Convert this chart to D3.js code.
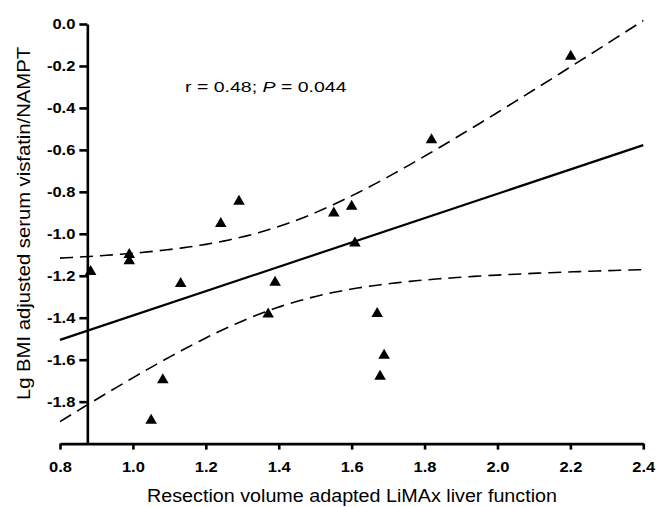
<!DOCTYPE html>
<html><head><meta charset="utf-8">
<script src="https://cdn.jsdelivr.net/npm/d3@7"></script>
<style>body{margin:0;background:#fff}</style>
</head><body>
<svg id="c" width="656" height="507"></svg>
<script>
// ---- data ----
const xValues = [0.884, 0.99, 0.99, 1.131, 1.082, 1.050, 1.291, 1.241, 1.390, 1.371, 1.551, 1.600, 1.609, 1.670, 1.689, 1.678, 1.819, 2.201];
const yValues = [-1.180, -1.100, -1.129, -1.238, -1.696, -1.890, -0.846, -0.952, -1.232, -1.383, -0.902, -0.870, -1.045, -1.381, -1.580, -1.680, -0.552, -0.155];
const xTickValues = [0.8, 1.0, 1.2, 1.4, 1.6, 1.8, 2.0, 2.2, 2.4];
const xTickLabels = ["0.8", "1.0", "1.2", "1.4", "1.6", "1.8", "2.0", "2.2", "2.4"];
const yTickValues = [0, -0.2, -0.4, -0.6, -0.8, -1.0, -1.2, -1.4, -1.6, -1.8];
const yTickLabels = ["0.0", "-0.2", "-0.4", "-0.6", "-0.8", "-1.0", "-1.2", "-1.4", "-1.6", "-1.8"];
const xDomain = [0.8, 2.4];
const yDomain = [-2.0, 0.0];
const yAxisAtX = 0.875;
const xTitle = "Resection volume adapted LiMAx liver function";
const yTitle = "Lg BMI adjusted serum visfatin/NAMPT";
const statR = "0.48";
const statP = "0.044";
const tCrit = 2.120; // t(0.975, df = 16) for the 95% confidence band

// ---- scales ----
const svg = d3.select("#c");
const x = d3.scaleLinear().domain(xDomain).range([60, 643.3]);
const y = d3.scaleLinear().domain(yDomain).range([443.6, 24]);

// ---- regression + 95% CI computed from the data ----
const pts = xValues.map((v, i) => ({x: v, y: yValues[i]}));
const n = pts.length;
const mx = d3.mean(xValues), my = d3.mean(yValues);
const sxx = d3.sum(xValues, v => (v - mx) ** 2);
const sxy = d3.sum(pts, p => (p.x - mx) * (p.y - my));
const slope = sxy / sxx, intercept = my - slope * mx;
const sse = d3.sum(pts, p => (p.y - (intercept + slope * p.x)) ** 2);
const s = Math.sqrt(sse / (n - 2));
const xs = d3.range(0, 101).map(i => xDomain[0] + (xDomain[1] - xDomain[0]) * i / 100);
const fit = v => intercept + slope * v;
const half = v => tCrit * s * Math.sqrt(1 / n + (v - mx) ** 2 / sxx);

const line = d3.line().x(d => x(d[0])).y(d => y(d[1]));
svg.append("path").attr("d", line(xs.map(v => [v, fit(v) + half(v)])))
  .attr("fill", "none").attr("stroke", "#000").attr("stroke-width", 1.6).attr("stroke-dasharray", "13,7");
svg.append("path").attr("d", line(xs.map(v => [v, fit(v) - half(v)])))
  .attr("fill", "none").attr("stroke", "#000").attr("stroke-width", 1.6).attr("stroke-dasharray", "13,7");
svg.append("path").attr("d", line([[xDomain[0], fit(xDomain[0])], [xDomain[1], fit(xDomain[1])]]))
  .attr("fill", "none").attr("stroke", "#000").attr("stroke-width", 2.2);

// ---- axes ----
const fmtX = d => xTickLabels[xTickValues.indexOf(d)];
const fmtY = d => yTickLabels[yTickValues.indexOf(d)];
const gx = svg.append("g").attr("transform", `translate(0,${y(yDomain[0])})`)
  .call(d3.axisBottom(x).tickValues(xTickValues).tickFormat(fmtX).tickSize(6).tickSizeOuter(0).tickPadding(15));
const gy = svg.append("g").attr("transform", `translate(${x(yAxisAtX)},0)`)
  .call(d3.axisLeft(y).tickValues(yTickValues).tickFormat(fmtY).tickSize(8).tickSizeOuter(0).tickPadding(4));
[gx, gy].forEach(g => {
  g.select(".domain").attr("stroke", "#000").attr("stroke-width", 2.6);
  g.selectAll(".tick line").attr("stroke", "#000").attr("stroke-width", 2.6);
  g.selectAll(".tick text").attr("fill", "#000")
    .style("font-family", "Arial, 'Liberation Sans', sans-serif")
    .style("font-weight", "bold").style("font-size", "15px");
});
gx.selectAll(".tick text").attr("dy", "0.5em");
[gx, gy].forEach(g => g.selectAll(".tick text").each(function () {
  const w = this.getComputedTextLength();
  d3.select(this).attr("textLength", w * 1.1).attr("lengthAdjust", "spacingAndGlyphs");
}));

// ---- points ----
svg.append("g").selectAll("path").data(pts).join("path")
  .attr("transform", d => `translate(${x(d.x)},${y(d.y)})`)
  .attr("d", d3.symbol(d3.symbolTriangle, 58))
  .attr("fill", "#000");

// ---- titles ----
const font = "Arial, 'Liberation Sans', sans-serif";
svg.append("text").attr("x", 147).attr("y", 502).text(xTitle)
  .style("font-family", font).style("font-size", "17.5px").attr("fill", "#000")
  .attr("textLength", 410).attr("lengthAdjust", "spacingAndGlyphs");
svg.append("text").attr("transform", "translate(29.5,223.5) rotate(-90)")
  .attr("text-anchor", "middle").text(yTitle)
  .style("font-family", font).style("font-size", "17.5px").attr("fill", "#000")
  .attr("textLength", 353).attr("lengthAdjust", "spacingAndGlyphs");

// ---- annotation ----
const ag = svg.append("g");
const at = ag.append("text").attr("x", 0).attr("y", 0)
  .style("font-family", font).style("font-size", "15.5px").attr("fill", "#000");
at.append("tspan").text(`r = ${statR}; `);
at.append("tspan").style("font-style", "italic").text("P");
at.append("tspan").text(` = ${statP}`);
const aw = at.node().getBBox().width;
ag.attr("transform", `translate(185,91.5) scale(${162 / aw},1)`);
</script>
</body></html>
